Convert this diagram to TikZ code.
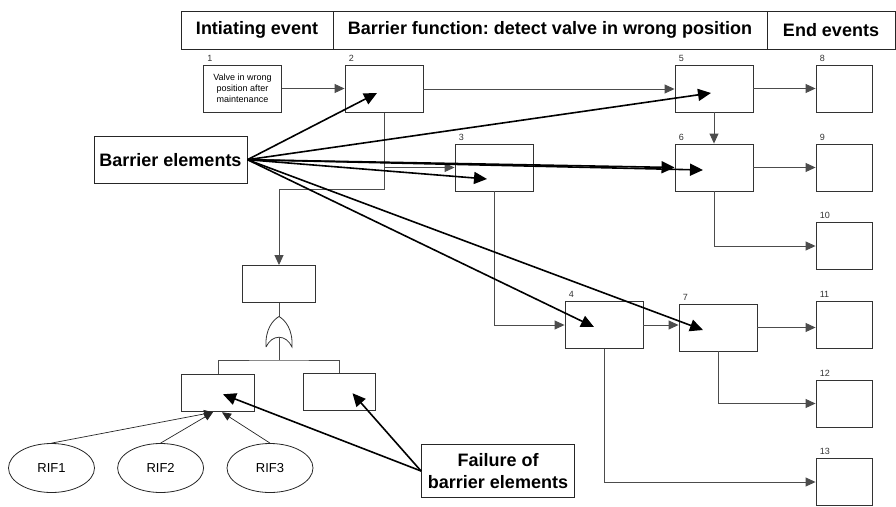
\documentclass[tikz,border=0pt]{standalone}
\usepackage{fontspec}
\setmainfont{Liberation Sans}
\usepackage{tikz}
\usetikzlibrary{calc}
\usetikzlibrary{shapes.geometric}
\usetikzlibrary{arrows.meta}
\frenchspacing
\tikzset{
	% Node styles: event boxes, fault tree boxes, RIF ellipses and bold text boxes
	event node/.style={rectangle,draw=black!80,line width=0.9pt,minimum width=78pt,minimum height=47pt,inner sep=0pt},
	end node/.style={event node,minimum width=56pt},
	gate node/.style={rectangle,draw=black!80,line width=0.9pt,minimum width=73pt,minimum height=37pt,inner sep=0pt},
	rif node/.style={ellipse,draw=black!85,line width=0.8pt,minimum width=86pt,minimum height=49pt,font=\fontsize{13}{15}\selectfont},
	big node/.style={rectangle,draw=black!85,line width=0.9pt,inner sep=2pt,font=\fontsize{18}{22}\selectfont\bfseries,align=center},
	num label/.style={anchor=south west,inner sep=1pt,xshift=3pt,yshift=2pt,font=\fontsize{9}{10}\selectfont,text=black!80},
	% Edge styles: thin tree lines and thick barrier arrows
	tree line/.style={draw=black!70,line width=0.9pt},
	tree edge/.style={tree line,-{Triangle[length=10pt,width=9pt]}},
	barrier edge/.style={draw=black,line width=1.6pt,-{Triangle[length=13pt,width=12pt]}},
	rif edge/.style={draw=black!85,line width=0.7pt,-{Triangle[length=9pt,width=8pt]}}
}

\begin{document}
\begin{tikzpicture}[x=1pt,y=-1pt]
	\useasboundingbox (0,0) rectangle (896,506);
	% Header row
	\node(h1)[big node,minimum width=152pt,minimum height=38pt] at (257,30) {Intiating event};
	\node(h2)[big node,minimum width=434pt,minimum height=38pt] at (550,30) {Barrier function: detect valve in wrong position};
	\node(h3)[big node,minimum width=128pt,minimum height=38pt] at (831,30) {End events};
	
	% Event tree
	\node(b1)[event node,align=center,font=\fontsize{9}{11}\selectfont,label={[num label]north west:1}] at (242.5,88.5) {Valve in wrong\\position after\\maintenance};
	\node(b2)[event node,label={[num label]north west:2}] at (384,89) {};
	\node(b3)[event node,label={[num label]north west:3}] at (494,167.5) {};
	\node(b4)[event node,label={[num label]north west:4}] at (604,325) {};
	\node(b5)[event node,label={[num label]north west:5}] at (714,88.5) {};
	\node(b6)[event node,label={[num label]north west:6}] at (714,167.5) {};
	\node(b7)[event node,label={[num label]north west:7}] at (718,327.5) {};
	\node(b8)[end node,label={[num label]north west:8}] at (844,88.5) {};
	\node(b9)[end node,label={[num label]north west:9}] at (844,167.5) {};
	\node(b10)[end node,label={[num label]north west:10}] at (844,246) {};
	\node(b11)[end node,label={[num label]north west:11}] at (844,325) {};
	\node(b12)[end node,label={[num label]north west:12}] at (844,403.5) {};
	\node(b13)[end node,label={[num label]north west:13}] at (844,482) {};
	
	\draw[tree edge] (b1.east) -- (b1.east -| b2.west);
	\draw[tree edge] (b2.east) -- (b2.east -| b5.west);
	\draw[tree edge] (b5.east) -- (b8.west);
	\draw[tree edge] (b5.south) -- (b6.north);
	\draw[tree edge] (b6.east) -- (b9.west);
	\draw[tree edge] (b6.south) |- (b10.west);
	\draw[tree edge] (b2.south) |- (b3.west);
	\draw[tree edge] (b3.south) |- (b4.west);
	\draw[tree edge] (b4.east) -- (b4.east -| b7.west);
	\draw[tree edge] (b4.south) |- (b13.west);
	\draw[tree edge] (b7.east) -- (b7.east -| b11.west);
	\draw[tree edge] (b7.south) |- (b12.west);
	
	% Fault tree below event 2
	\node(gtop)[gate node] at (279,284) {};
	\node(gleft)[gate node] at (218,393.3) {};
	\node(gright)[gate node,minimum width=72pt] at (339.5,391.7) {};
	\coordinate (j2) at (384,189);
	\coordinate (gin) at (279,316.5);
	\coordinate (gout) at (279,337.3);
	\coordinate (gsplit) at (279,360);
	\draw[tree edge] (b2.south) -- (j2) -| (gtop.north);
	\draw[tree line] (gtop.south) -- (gin);
	\draw[draw=black!80,line width=0.8pt] (266,347) .. controls (265,329) and (273,320) .. (gin)
		.. controls (285,320) and (293,329) .. (292,347) .. controls (286,334) and (272,334) .. (266,347);
	\draw[tree line] (gout) -- (gsplit);
	\draw[tree line] (gleft.north) |- (gsplit) -| (gright.north);
	
	% RIFs
	\node(rif1)[rif node] at (51.5,468) {RIF1};
	\node(rif2)[rif node] at (160.6,468) {RIF2};
	\node(rif3)[rif node] at (270,468) {RIF3};
	\draw[rif edge] (rif1.north) -- ($(gleft.south)+(-5,0)$);
	\draw[rif edge] (rif2.north) -- ($(gleft.south)+(-5,0)$);
	\draw[rif edge] (rif3.north) -- ($(gleft.south)+(4,0)$);
	
	% Barrier elements and their failures
	\node(barrier)[big node,minimum width=153pt,minimum height=47pt] at (170.5,159.7) {Barrier elements};
	\node(failure)[big node,minimum width=153pt,minimum height=53pt] at (498,471) {Failure of\\barrier elements};
	\draw[barrier edge] (barrier.east) -- ($(b2)+(-7,4)$);
	\draw[barrier edge] (barrier.east) -- ($(b5)+(-3,4.5)$);
	\draw[barrier edge] (barrier.east) -- (b6.west);
	\draw[barrier edge] (barrier.east) -- ($(b6)+(-11,2.5)$);
	\draw[barrier edge] (barrier.east) -- ($(b3)+(-7,11.5)$);
	\draw[barrier edge] (barrier.east) -- ($(b4)+(-10,2)$);
	\draw[barrier edge] (barrier.east) -- ($(b7)+(-15,2.5)$);
	\draw[barrier edge] (failure.west) -- ($(gleft)+(5,1)$);
	\draw[barrier edge] (failure.west) -- ($(gright)+(13,1.5)$);
\end{tikzpicture}
\end{document}
